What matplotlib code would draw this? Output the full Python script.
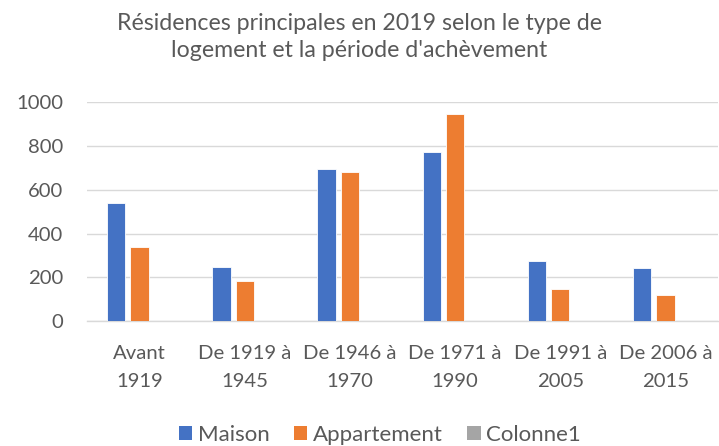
import matplotlib
matplotlib.use("Agg")
import matplotlib.pyplot as plt
import numpy as np
from matplotlib.patches import Patch

categories = ["Avant\n1919", "De 1919 à\n1945", "De 1946 à\n1970", "De 1971 à\n1990", "De 1991 à\n2005", "De 2006 à\n2015"]
maison = [540, 248, 695, 772, 273, 243]
appartement = [339, 183, 680, 948, 148, 119]
colonne1 = [0, 0, 0, 0, 0, 0]
series_names = ["Maison", "Appartement", "Colonne1"]
colors = ["#4472C4", "#ED7D31", "#A5A5A5"]
title = "Résidences principales en 2019 selon le type de\nlogement et la période d'achèvement"

plt.rcParams['font.family'] = ['Lato', 'DejaVu Sans']
txt = "#595959"

W, H = 719, 446
fig = plt.figure(figsize=(W/100, H/100), dpi=100)
left, right, top, bottom = 87, 718, 102.3, 321
ax = fig.add_axes([left/W, 1-bottom/H, (right-left)/W, (bottom-top)/H])

x = np.arange(len(categories))
w = 0.174
step = 0.222
for i, (vals, c) in enumerate(zip([maison, appartement, colonne1], colors)):
    ax.bar(x + (i-1)*step, vals, width=w, color=c, edgecolor='white', linewidth=0.6, zorder=3)

ax.set_xlim(-0.5, len(categories)-0.5)
ax.set_ylim(0, 1000)
ax.set_yticks(range(0, 1001, 200))
ax.yaxis.grid(True, color="#D9D9D9", linewidth=1.0, zorder=0)
for s in ['top', 'right', 'left']:
    ax.spines[s].set_visible(False)
ax.spines['bottom'].set_color("#D9D9D9")
ax.spines['bottom'].set_linewidth(1.0)
ax.tick_params(axis='both', length=0, colors=txt, labelsize=14.6)
ax.tick_params(axis='y', pad=17)
ax.tick_params(axis='x', pad=17.5)
ax.set_xticks(x)
ax.set_xticklabels(categories, linespacing=1.75)

fig.text(0.5, 1-37/H, title, ha='center', va='center', fontsize=16.7, color=txt, linespacing=1.34)

handles = [Patch(facecolor=c, edgecolor='none') for c in colors]
fig.legend(handles, series_names, loc='center', bbox_to_anchor=(380/W, 1-435/H), ncol=3, frameon=False,
           fontsize=16, labelcolor=txt, handlelength=0.6, handleheight=0.6, handletextpad=0.25, columnspacing=1.1)

fig.savefig("out.png", dpi=100)
